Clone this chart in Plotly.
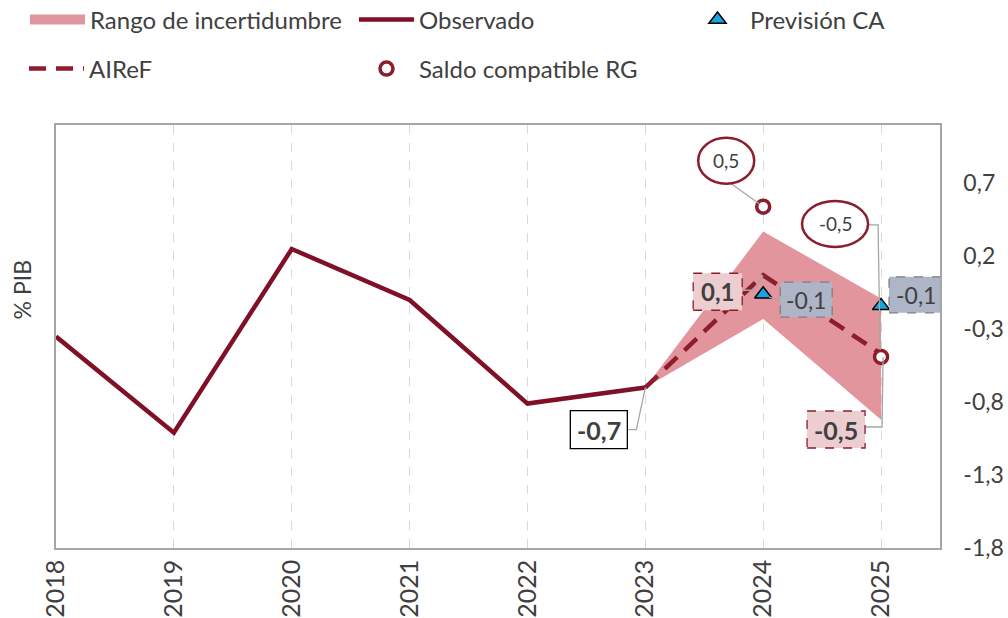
import plotly.graph_objects as go

# ---------------- data ----------------
years = [2018, 2019, 2020, 2021, 2022, 2023, 2024, 2025]
obs_years = [2018, 2019, 2020, 2021, 2022, 2023]
observado = [-0.35, -1.01, 0.25, -0.10, -0.81, -0.70]
airef_years = [2023, 2024, 2025]
airef = [-0.70, 0.07, -0.47]
rango_sup = [-0.70, 0.37, -0.09]
rango_inf = [-0.70, -0.23, -0.92]
ca_years = [2024, 2025]
prevision_ca = [-0.06, -0.14]
saldo_years = [2024, 2025]
saldo_rg = [0.54, -0.49]
y_ticks = [0.7, 0.2, -0.3, -0.8, -1.3, -1.8]
y_ticklabels = ["0,7", "0,2", "-0,3", "-0,8", "-1,3", "-1,8"]
x_ticklabels = [str(y) for y in years]

FONT = "Lato"
TXT = "#404040"
MAROON = "#7F1028"
DARKRED = "#8B1D2C"
PINK = "#E3959E"
BLUE = "#19A3E0"


def fmt(v):
    return f"{v:.1f}".replace(".", ",")


fig = go.Figure()

# uncertainty range polygon
fig.add_trace(go.Scatter(
    x=airef_years + airef_years[::-1],
    y=rango_sup + rango_inf[::-1],
    fill="toself", fillcolor=PINK, mode="lines",
    line=dict(width=0, color=PINK),
    name="Rango de incertidumbre", showlegend=False, hoverinfo="skip"))
# legend entry for the range (thick swatch)
fig.add_trace(go.Scatter(
    x=[None], y=[None], mode="lines",
    line=dict(width=15, color=PINK),
    name="Rango de incertidumbre", legend="legend"))

fig.add_trace(go.Scatter(
    x=obs_years, y=observado, mode="lines",
    line=dict(color=MAROON, width=4.5),
    name="Observado", legend="legend2"))

fig.add_trace(go.Scatter(
    x=airef_years, y=airef, mode="lines",
    line=dict(color=DARKRED, width=4.5, dash="17px,10px"),
    name="AIReF", legend="legend4"))

fig.add_trace(go.Scatter(
    x=ca_years, y=prevision_ca, mode="markers",
    marker=dict(symbol="triangle-up", size=15, color=BLUE,
                line=dict(color="#000000", width=1.5)),
    name="Previsión CA", legend="legend3"))

fig.add_trace(go.Scatter(
    x=saldo_years, y=saldo_rg, mode="markers",
    marker=dict(symbol="circle", size=13, color="white",
                line=dict(color=DARKRED, width=3.5)),
    name="Saldo compatible RG", legend="legend5"))

shapes = []
annotations = []


def leader(xv, yv, pts):
    path = "M" + " L".join(f"{px},{py}" for px, py in pts)
    shapes.append(dict(type="path", xref="x", yref="y",
                       xsizemode="pixel", ysizemode="pixel",
                       xanchor=xv, yanchor=yv, path=path,
                       line=dict(color="#A6A6A6", width=1.3), layer="above"))


def label(xv, yv, dx, dy, kind, text, fill, lcol, dash, fsize, bold):
    shapes.append(dict(type=kind, xref="x", yref="y",
                       xsizemode="pixel", ysizemode="pixel",
                       xanchor=xv, yanchor=yv,
                       x0=dx[0], x1=dx[1], y0=dy[0], y1=dy[1],
                       fillcolor=fill,
                       line=dict(color=lcol, width=1.3 if kind == "rect" else 2.5, dash=dash),
                       layer="above"))
    t = f"<b>{text}</b>" if bold else text
    annotations.append(dict(x=xv, y=yv, xref="x", yref="y",
                            xshift=(dx[0] + dx[1]) / 2, yshift=(dy[0] + dy[1]) / 2,
                            text=t, showarrow=False,
                            font=dict(family=FONT, size=fsize, color=TXT)))


# Observed 2023
leader(obs_years[-1], observado[-1], [(0, 0), (-9, -42), (-18, -42)])
label(obs_years[-1], observado[-1], (-75, -18), (-61, -23), "rect",
      fmt(observado[-1]), "white", "#000000", "solid", 25, True)

# AIReF 2024
leader(airef_years[1], airef[1], [(0, 0), (-10, -15), (-21, -15)])
label(airef_years[1], airef[1], (-70, -21), (-35, 2), "rect",
      fmt(airef[1]), "#ECCDD0", DARKRED, "dash", 24, True)

# AIReF 2025
leader(airef_years[2], airef[2], [(2, -3), (1, -73), (-16, -73)])
label(airef_years[2], airef[2], (-74, -16), (-94, -57), "rect",
      fmt(airef[2]), "#ECCDD0", DARKRED, "dash", 25, True)

# CA 2024
leader(ca_years[0], prevision_ca[0], [(6, -3), (17, -6)])
label(ca_years[0], prevision_ca[0], (17, 69), (-23, 12), "rect",
      fmt(prevision_ca[0]), "#ADB5C7", "#7F7F7F", "dash", 23, False)

# CA 2025
label(ca_years[1], prevision_ca[1], (8, 61), (-7, 29), "rect",
      fmt(prevision_ca[1]), "#ADB5C7", "#7F7F7F", "dash", 23, False)

# Saldo RG 2024
leader(saldo_years[0], saldo_rg[0], [(-4, 3), (-32, 23)])
label(saldo_years[0], saldo_rg[0], (-65, -9), (23, 69), "circle",
      fmt(saldo_rg[0]), "white", DARKRED, "solid", 19, False)

# Saldo RG 2025
leader(saldo_years[1], saldo_rg[1], [(-13, 132), (-3, 132), (-1, 7)])
label(saldo_years[1], saldo_rg[1], (-79, -13), (110, 156), "circle",
      fmt(saldo_rg[1]), "white", DARKRED, "solid", 19, False)

# y-axis title on the left
annotations.append(dict(x=-0.038, y=0.61, xref="paper", yref="paper",
                        xanchor="center", yanchor="middle",
                        text="% PIB", textangle=-90, showarrow=False,
                        font=dict(family=FONT, size=23, color=TXT)))

PLOT_W, PLOT_H, M_L, M_T = 884, 423, 56, 125


def leg(text_x_px, center_y_px):
    return dict(orientation="h",
                x=(text_x_px - 67 - M_L) / PLOT_W,
                y=1 + (M_T - center_y_px) / PLOT_H,
                xanchor="left", yanchor="middle", itemwidth=55,
                font=dict(family=FONT, size=24, color=TXT),
                bgcolor="rgba(0,0,0,0)")


fig.update_layout(
    width=1008, height=618,
    margin=dict(l=M_L, r=68, t=M_T, b=70, autoexpand=False),
    paper_bgcolor="white", plot_bgcolor="white",
    separators=",.",
    font=dict(family=FONT, size=22, color=TXT),
    shapes=shapes, annotations=annotations,
    showlegend=True,
    legend=leg(92, 20),
    legend2=leg(421, 20),
    legend3=leg(752, 20),
    legend4=leg(91, 69),
    legend5=leg(421, 69),
    xaxis=dict(range=[2018, 2025.5], tickvals=years, ticktext=x_ticklabels,
               tickangle=-90, showgrid=True, gridcolor="#D9D9D9", griddash="dash",
               gridwidth=1, showline=True, linecolor="#A6A6A6", linewidth=1.5,
               mirror=True, ticks="", zeroline=False, automargin=False,
               tickfont=dict(family=FONT, size=25, color=TXT)),
    yaxis=dict(range=[-1.8, 1.1], side="right", tickvals=y_ticks, ticktext=y_ticklabels,
               showgrid=False, showline=True, linecolor="#A6A6A6", linewidth=1.5,
               mirror=True, ticks="", zeroline=False, ticklabelstandoff=17,
               automargin=False,
               tickfont=dict(family=FONT, size=23, color=TXT)),
    hovermode=False,
)

fig.write_html("out.html", config={"displayModeBar": False},
               post_script="document.body.style.margin='0px';document.body.style.overflow='hidden';")
